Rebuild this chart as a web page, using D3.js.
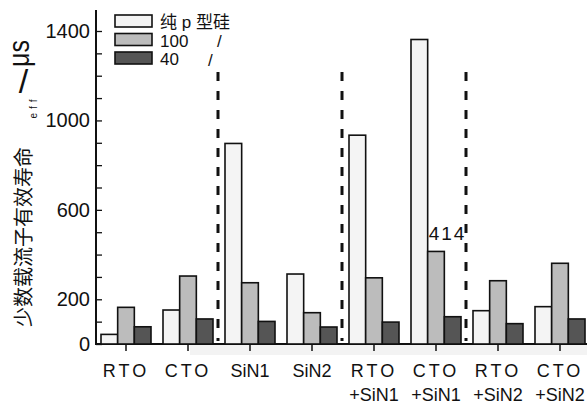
<!DOCTYPE html>
<html>
<head>
<meta charset="utf-8">
<script src="https://cdn.jsdelivr.net/npm/d3@7"></script>
<style>
  body { margin: 0; background: #fff; }
  svg { display: block; font-family: "Liberation Sans", Arial, "Noto Sans CJK SC", sans-serif; }
</style>
</head>
<body>
<div id="chart"></div>
<script>
const categories = [['RTO'], ['CTO'], ['SiN1'], ['SiN2'], ['RTO', '+SiN1'], ['CTO', '+SiN1'], ['RTO', '+SiN2'], ['CTO', '+SiN2']]
const seriesNames = ['纯 p 型硅', '100', '40']
const pureSi = [43, 152, 897, 313, 934, 1362, 149, 167]
const s100 = [164, 304, 274, 140, 296, 414, 283, 361]
const s40 = [77, 112, 101, 76, 98, 122, 91, 112]
const yTicks = [0, 100, 200, 300, 400, 500, 600, 700, 800, 900, 1000, 1100, 1200, 1300, 1400]
const yTickLabels = [0, 200, 600, 1000, 1400]
const dividerAfter = [1, 3, 5]
const annotation = { index: 5, text: '414' }

const colors = ['#f4f4f4', '#bcbcbc', '#555555']
const series = [pureSi, s100, s40]

const width = 587, height = 405
const svg = d3.select('#chart').append('svg')
  .attr('width', width)
  .attr('height', height)

const keys = categories.map(d => d.join(' '))

let yScale = d3.scaleLinear()
  .domain([0, 1400])
  .range([344, 31])

let xScale = d3.scaleBand()
  .domain(keys)
  .range([101, 585])
  .paddingInner(12 / 62)
  .paddingOuter(0)

let subScale = d3.scaleBand()
  .domain(d3.range(series.length))
  .range([0, xScale.bandwidth()])

/* Y axis */
let yAxis = d3.axisRight(yScale)
  .tickValues(yTicks)
  .tickSize(6)
  .tickFormat('')

svg.append('g')
  .attr('transform', 'translate(96,0)')
  .call(yAxis)
  .call(g => g.select('.domain').remove())
  .call(g => g.selectAll('line').attr('stroke', '#111').attr('stroke-width', 1.3))

svg.append('line')
  .attr('x1', 96).attr('x2', 96)
  .attr('y1', 10).attr('y2', 345)
  .attr('stroke', '#111').attr('stroke-width', 2)

svg.append('g')
  .selectAll('text')
  .data(yTickLabels)
  .enter()
  .append('text')
  .attr('x', 90)
  .attr('y', d => yScale(d) + 7)
  .attr('text-anchor', 'end')
  .style('font-size', '20px')
  .style('fill', '#111')
  .text(d => d)

/* faint strip under axis */
svg.append('rect')
  .attr('x', 190).attr('y', 345)
  .attr('width', 397).attr('height', 10)
  .style('fill', '#f3f3f3')

/* X axis */
let xAxis = d3.axisBottom(xScale)
  .tickSize(7)
  .tickFormat('')

svg.append('g')
  .attr('transform', 'translate(0,344)')
  .call(xAxis)
  .call(g => g.select('.domain').remove())
  .call(g => g.selectAll('line').attr('stroke', '#111').attr('stroke-width', 1.5))

svg.append('line')
  .attr('x1', 95).attr('x2', 587)
  .attr('y1', 344).attr('y2', 344)
  .attr('stroke', '#111').attr('stroke-width', 2)

const xLabels = svg.append('g')
  .selectAll('text')
  .data(categories)
  .enter()
  .append('text')
  .attr('text-anchor', 'middle')
  .style('font-size', '18px')
  .style('fill', '#111')

xLabels.each(function(d, i) {
  const cx = xScale(keys[i]) + xScale.bandwidth() / 2
  d3.select(this).selectAll('tspan')
    .data(d)
    .enter()
    .append('tspan')
    .attr('x', cx)
    .attr('y', (t, j) => 377 + j * 24)
    .style('letter-spacing', t => /^[A-Z]+$/.test(t) ? '3px' : '0px')
    .text(t => t)
})

/* bars */
const groups = svg.append('g')
  .selectAll('g')
  .data(keys)
  .enter()
  .append('g')
  .attr('transform', d => `translate(${xScale(d)},0)`)

groups.selectAll('rect')
  .data((d, i) => series.map((s, k) => ({ k, v: s[i] })))
  .enter()
  .append('rect')
  .attr('x', d => subScale(d.k))
  .attr('y', d => yScale(d.v))
  .attr('width', subScale.bandwidth())
  .attr('height', d => yScale(0) - yScale(d.v))
  .style('fill', d => colors[d.k])
  .style('stroke', '#111')
  .style('stroke-width', 1.6)

/* dashed dividers */
svg.append('g')
  .selectAll('line')
  .data(dividerAfter)
  .enter()
  .append('line')
  .attr('x1', i => xScale(keys[i]) + xScale.bandwidth() + 5)
  .attr('x2', i => xScale(keys[i]) + xScale.bandwidth() + 5)
  .attr('y1', 72)
  .attr('y2', 341)
  .attr('stroke', '#111')
  .attr('stroke-width', 3)
  .attr('stroke-dasharray', '9,10')

/* annotation */
svg.append('text')
  .attr('x', xScale(keys[annotation.index]) + subScale(1) + 1)
  .attr('y', yScale(s100[annotation.index]) - 11)
  .style('font-size', '19px')
  .style('letter-spacing', '2px')
  .style('fill', '#111')
  .text(annotation.text)

/* legend */
const legend = svg.append('g')
legend.selectAll('rect')
  .data(seriesNames)
  .enter()
  .append('rect')
  .attr('x', 115)
  .attr('y', (d, i) => 15 + i * 18.5)
  .attr('width', 37)
  .attr('height', 12)
  .style('fill', (d, i) => colors[i])
  .style('stroke', '#111')
  .style('stroke-width', 1.6)

legend.selectAll('text.name')
  .data(seriesNames)
  .enter()
  .append('text')
  .attr('class', 'name')
  .attr('x', 160)
  .attr('y', (d, i) => 28 + i * 18.5)
  .style('font-size', '17px')
  .style('fill', '#111')
  .text(d => d)

legend.selectAll('text.slash')
  .data([217, 208])
  .enter()
  .append('text')
  .attr('class', 'slash')
  .attr('x', d => d)
  .attr('y', (d, i) => 47 + i * 18.5)
  .style('font-size', '17px')
  .style('fill', '#111')
  .text('/')

/* Y label */
svg.append('text')
  .attr('transform', 'translate(30.5,237) rotate(-90)')
  .attr('text-anchor', 'middle')
  .style('font-family', '"Noto Sans CJK SC", sans-serif')
  .style('font-size', '20px')
  .style('fill', '#111')
  .text('少数载流子有效寿命')

svg.append('text')
  .attr('transform', 'translate(37,107) rotate(-90)')
  .attr('text-anchor', 'middle')
  .style('font-size', '10px')
  .style('letter-spacing', '4px')
  .style('fill', '#111')
  .text('eff')

svg.append('text')
  .attr('x', 23.5)
  .attr('y', 93)
  .attr('text-anchor', 'middle')
  .style('font-size', '34px')
  .style('fill', '#111')
  .text('/')

svg.append('text')
  .attr('transform', 'translate(29,67) rotate(-90) scale(1,1.2)')
  .attr('text-anchor', 'start')
  .style('font-size', '25px')
  .style('fill', '#111')
  .text('μs')
</script>
</body>
</html>
